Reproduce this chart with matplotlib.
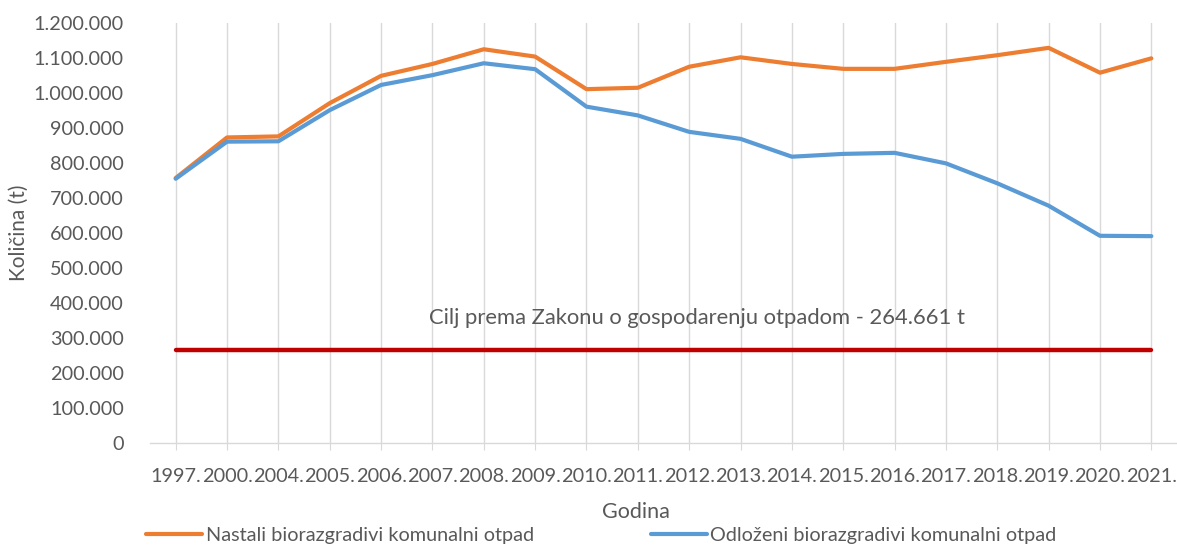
import matplotlib
matplotlib.use("Agg")
import matplotlib.pyplot as plt
from matplotlib.ticker import FuncFormatter

plt.rcParams['font.family'] = ['Lato', 'DejaVu Sans']

years = ['1997.', '2000.', '2004.', '2005.', '2006.', '2007.', '2008.', '2009.', '2010.', '2011.',
         '2012.', '2013.', '2014.', '2015.', '2016.', '2017.', '2018.', '2019.', '2020.', '2021.']
nastali = [757000, 873000, 876000, 971000, 1049000, 1083000, 1125000, 1104000, 1011000, 1015000,
           1075000, 1102000, 1083000, 1069000, 1069000, 1089000, 1108000, 1129000, 1058000, 1099000]
odlozeni = [755000, 861000, 862000, 951000, 1023000, 1051000, 1085000, 1068000, 961000, 936000,
            889000, 869000, 818000, 826000, 829000, 799000, 742000, 678000, 592000, 591000]
cilj_value = 264661
cilj = [cilj_value] * len(years)

label_nastali = 'Nastali biorazgradivi komunalni otpad'
label_odlozeni = 'Odloženi biorazgradivi komunalni otpad'
target_text = 'Cilj prema Zakonu o gospodarenju otpadom - 264.661 t'

grey = '#595959'
fig = plt.figure(figsize=(11.77, 5.46), dpi=100)
ax = fig.add_axes([150/1177, 103/546, 1 - 150/1177, 420/546])

x = list(range(len(years)))
l1, = ax.plot(x, nastali, color='#ED7D31', lw=3, solid_capstyle='round', label=label_nastali, zorder=3)
l2, = ax.plot(x, odlozeni, color='#5B9BD5', lw=3, solid_capstyle='round', label=label_odlozeni, zorder=3)
ax.plot(x, cilj, color='#C00000', lw=3.2, solid_capstyle='round', zorder=3)

ax.set_xlim(-0.5, len(years) - 0.5)
ax.set_ylim(0, 1200000)
ax.set_yticks(range(0, 1200001, 100000))
ax.yaxis.set_major_formatter(FuncFormatter(lambda v, p: '0' if v == 0 else f'{int(v):,}'.replace(',', '.')))
ax.set_xticks(x)
ax.set_xticklabels(years)
ax.grid(axis='x', color='#D9D9D9', lw=1)
ax.set_axisbelow(True)
for s in ['top', 'right', 'left']:
    ax.spines[s].set_visible(False)
ax.spines['bottom'].set_color('#D9D9D9')
ax.spines['bottom'].set_linewidth(1)
ax.tick_params(axis='x', length=5, color='#D9D9D9', pad=13, labelsize=14.3, labelcolor=grey)
ax.tick_params(axis='y', length=0, pad=19, labelsize=14.3, labelcolor=grey)

fig.text(697/1177, 1 - 318/546, target_text, ha='center', va='center', fontsize=15.8, color=grey)
fig.text(636/1177, 1 - 512/546, 'Godina', ha='center', va='center', fontsize=15.5, color=grey)
fig.text(19/1177, 1 - 233/546, 'Količina (t)', ha='center', va='center', rotation=90, fontsize=15, color=grey)

fig.legend(handles=[l1, l2], loc='center left', bbox_to_anchor=(146/1177, 1 - 535/546), ncol=2,
           frameon=False, fontsize=14.3, labelcolor=grey, handlelength=2.8, handletextpad=0.2,
           columnspacing=5.9, borderaxespad=0, borderpad=0)

fig.savefig('out.png', dpi=100)
